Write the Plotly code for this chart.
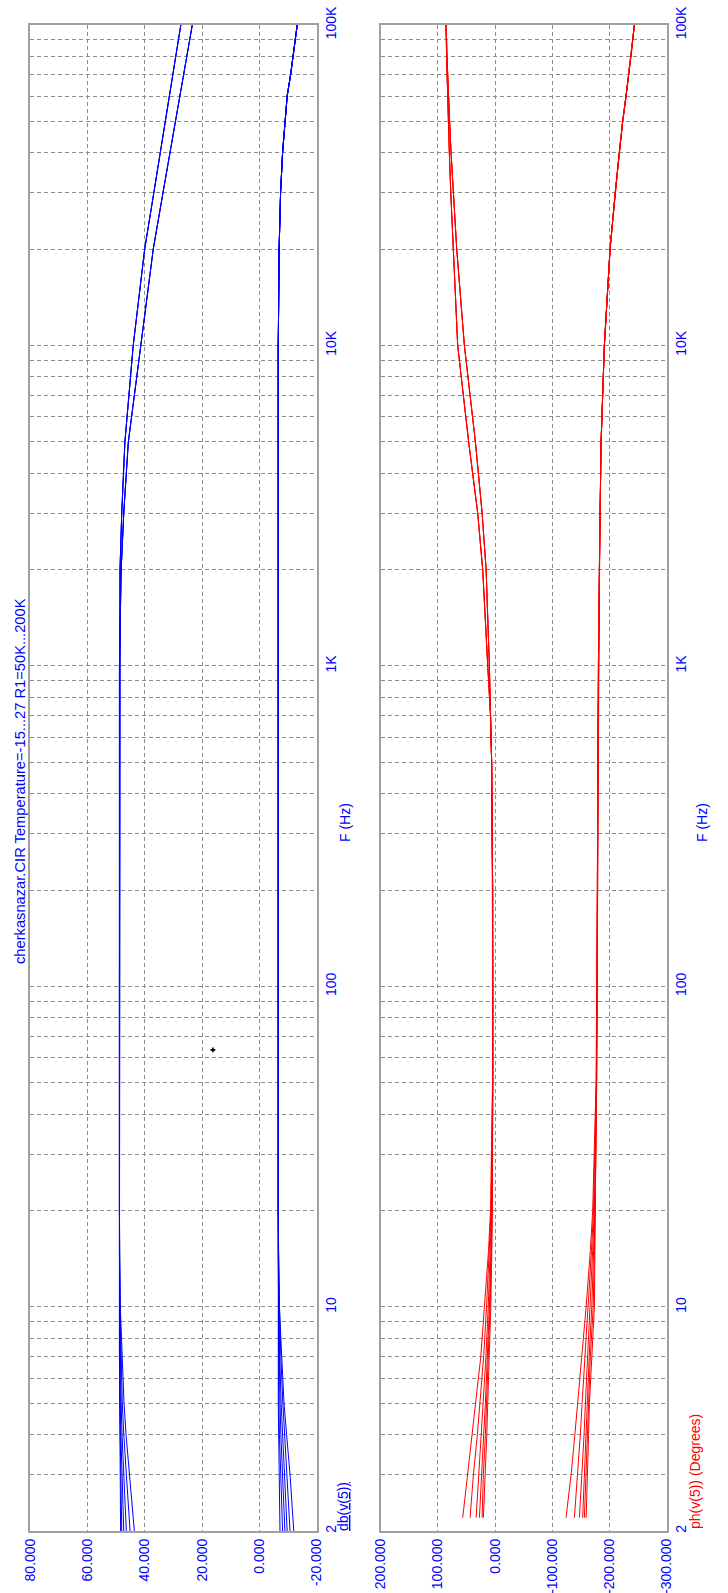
import math
import plotly.graph_objects as go

W, H = 728, 1593

BLUE = "#0000FF"
RED = "#FF0000"
GRID = "#8c8c8c"
FRAME = "#a0a0a0"
FONT = "Liberation Sans, Arial, sans-serif"

# ---------------- magnitude, dB ----------------
FREQ_MAG = [2, 3, 4, 5, 7, 10, 15, 20, 100, 1000, 2000, 3000, 5000,
            10000, 20000, 30000, 40000, 50000, 60000, 70000, 80000, 100000]

# upper family (about +48.8 dB), two branches above 1 kHz
MAG_A1 = [48.4, 48.6, 48.7, 48.8, 48.8, 48.8, 48.8, 48.8, 48.8, 48.8, 48.6, 48.0, 46.9,
          44.0, 40.0, 36.8, 34.6, 32.8, 31.4, 30.2, 29.1, 27.4]
MAG_B1 = [48.0, 48.4, 48.6, 48.7, 48.8, 48.8, 48.8, 48.8, 48.8, 48.8, 48.2, 47.3, 45.7,
          41.4, 37.0, 33.6, 31.2, 29.3, 27.7, 26.4, 25.3, 23.4]
MAG_A2 = [47.3, 48.0, 48.3, 48.5, 48.6, 48.8, 48.8, 48.8, 48.8, 48.8, 48.6, 48.0, 46.9,
          44.0, 40.0, 36.8, 34.6, 32.8, 31.4, 30.2, 29.1, 27.4]
MAG_B2 = [46.4, 47.4, 47.9, 48.2, 48.5, 48.7, 48.8, 48.8, 48.8, 48.8, 48.2, 47.3, 45.7,
          41.4, 37.0, 33.6, 31.2, 29.3, 27.7, 26.4, 25.3, 23.4]
MAG_A3 = [45.1, 46.5, 47.3, 47.8, 48.3, 48.6, 48.8, 48.8, 48.8, 48.8, 48.6, 48.0, 46.9,
          44.0, 40.0, 36.8, 34.6, 32.8, 31.4, 30.2, 29.1, 27.4]
MAG_B3 = [43.6, 45.4, 46.5, 47.2, 47.9, 48.5, 48.7, 48.8, 48.8, 48.8, 48.2, 47.3, 45.7,
          41.4, 37.0, 33.6, 31.2, 29.3, 27.7, 26.4, 25.3, 23.4]

# lower family (about -6.6 dB)
MAG_L1 = [-7.2, -6.9, -6.7, -6.6, -6.6, -6.6, -6.6, -6.6, -6.6, -6.6, -6.6, -6.6, -6.6,
          -6.6, -6.9, -7.4, -8.1, -8.9, -9.7, -10.9, -11.8, -13.2]
MAG_L2 = [-8.1, -7.4, -7.0, -6.8, -6.7, -6.6, -6.6, -6.6, -6.6, -6.6, -6.6, -6.6, -6.6,
          -6.6, -6.9, -7.4, -8.1, -8.9, -9.7, -10.9, -11.8, -13.2]
MAG_L3 = [-8.9, -8.0, -7.5, -7.2, -6.9, -6.7, -6.6, -6.6, -6.6, -6.6, -6.6, -6.6, -6.6,
          -6.6, -6.9, -7.4, -8.1, -8.9, -9.7, -10.9, -11.8, -13.2]
MAG_L4 = [-9.7, -8.7, -8.0, -7.6, -7.1, -6.8, -6.6, -6.6, -6.6, -6.6, -6.6, -6.6, -6.6,
          -6.6, -6.9, -7.4, -8.1, -8.9, -9.7, -10.9, -11.8, -13.2]
MAG_L5 = [-10.7, -9.6, -8.7, -8.2, -7.5, -7.0, -6.7, -6.6, -6.6, -6.6, -6.6, -6.6, -6.6,
          -6.6, -6.9, -7.4, -8.1, -8.9, -9.7, -10.9, -11.8, -13.2]
MAG_L6 = [-12.0, -10.7, -9.5, -8.6, -7.8, -7.0, -6.7, -6.6, -6.6, -6.6, -6.6, -6.6, -6.6,
          -6.6, -6.9, -7.4, -8.1, -8.9, -9.7, -10.9, -11.8, -13.2]

MAG_CURVES = [MAG_A1, MAG_B1, MAG_A2, MAG_B2, MAG_A3, MAG_B3,
              MAG_L1, MAG_L2, MAG_L3, MAG_L4, MAG_L5, MAG_L6]

# ---------------- phase, degrees ----------------
FREQ_PH = [2.2, 3, 4, 5, 7, 10, 15, 20, 50, 100, 200, 500, 700,
           1000, 2000, 3000, 5000, 10000, 20000, 30000, 40000, 50000, 60000, 70000, 80000, 100000]

PH_U1 = [56.6, 47.9, 39.5, 33.2, 25.0, 18.7, 11.5, 8.0, 4.5, 4.0, 4.3, 6.0, 8.0,
         12.9, 21.7, 30.4, 46.2, 65.4, 73.5, 77.5, 80.0, 81.8, 83.0, 84.0, 84.8, 85.7]
PH_U2 = [43.7, 37.9, 31.0, 26.2, 20.0, 15.0, 9.8, 7.0, 4.3, 4.0, 4.3, 6.0, 8.0,
         10.0, 15.7, 22.7, 34.4, 53.7, 67.1, 73.5, 77.0, 79.5, 81.5, 83.0, 84.2, 85.5]
PH_U3 = [33.2, 28.7, 23.5, 20.5, 16.0, 12.0, 8.3, 6.2, 4.2, 4.0, 4.3, 6.0, 8.0,
         12.9, 21.7, 30.4, 46.2, 65.4, 73.5, 77.5, 80.0, 81.8, 83.0, 84.0, 84.8, 85.7]
PH_U4 = [27.4, 24.0, 20.0, 17.0, 13.5, 10.0, 7.2, 5.6, 4.1, 4.0, 4.3, 6.0, 8.0,
         10.0, 15.7, 22.7, 34.4, 53.7, 67.1, 73.5, 77.0, 79.5, 81.5, 83.0, 84.2, 85.5]
PH_U5 = [22.7, 20.5, 17.0, 14.7, 12.0, 8.8, 6.4, 5.2, 4.0, 4.0, 4.3, 6.0, 8.0,
         12.9, 21.7, 30.4, 46.2, 65.4, 73.5, 77.5, 80.0, 81.8, 83.0, 84.0, 84.8, 85.7]
PH_U6 = [20.5, 17.0, 14.5, 12.9, 10.0, 7.5, 5.7, 4.8, 4.0, 4.0, 4.3, 6.0, 8.0,
         10.0, 15.7, 22.7, 34.4, 53.7, 67.1, 73.5, 77.0, 79.5, 81.5, 83.0, 84.2, 85.5]

PH_TAIL_L = [-180.6, -182.3, -183.5, -185.3, -191.0, -201.0, -210.0, -217.0,
             -223.0, -229.0, -233.6, -237.7, -243.5]
PH_L1 = [-124.0, -132.9, -139.5, -144.4, -152.0, -159.1, -166.5, -170.6, -176.5,
         -178.0, -178.8, -179.4, -180.0] + PH_TAIL_L
PH_L2 = [-138.6, -144.4, -149.0, -152.1, -157.5, -163.0, -168.5, -172.0, -177.0,
         -178.2, -178.8, -179.4, -180.0] + PH_TAIL_L
PH_L3 = [-147.4, -152.1, -155.5, -157.9, -162.0, -166.5, -170.5, -173.5, -177.3,
         -178.4, -178.8, -179.4, -180.0] + PH_TAIL_L
PH_L4 = [-153.1, -156.1, -158.8, -160.8, -164.5, -169.0, -172.0, -174.5, -177.5,
         -178.5, -178.8, -179.4, -180.0] + PH_TAIL_L
PH_L5 = [-156.1, -159.1, -161.5, -163.1, -166.5, -171.5, -173.5, -175.0, -177.6,
         -178.5, -178.8, -179.4, -180.0] + PH_TAIL_L
PH_L6 = [-159.1, -161.9, -163.5, -164.9, -168.5, -173.6, -174.5, -175.3, -177.7,
         -178.5, -178.8, -179.4, -180.0] + PH_TAIL_L

PH_CURVES = [PH_U1, PH_U2, PH_U3, PH_U4, PH_U5, PH_U6,
             PH_L1, PH_L2, PH_L3, PH_L4, PH_L5, PH_L6]

# ---------------- axes ----------------
MAG_TICKS = [80, 60, 40, 20, 0, -20]
MAG_TICKTEXT = ["80.000", "60.000", "40.000", "20.000", "0.000", "-20.000"]
PH_TICKS = [200, 100, 0, -100, -200, -300]
PH_TICKTEXT = ["200.000", "100.000", "0.000", "-100.000", "-200.000", "-300.000"]

FREQ_GRID = [m * 10 ** e for e in range(0, 5) for m in range(1, 10)] + [100000]
FREQ_GRID = [f for f in FREQ_GRID if f >= 2]
FREQ_LABELS = {2: "2", 10: "10", 100: "100", 1000: "1K", 10000: "10K", 100000: "100K"}
FREQ_TICKTEXT = [FREQ_LABELS.get(f, "") for f in FREQ_GRID]

TITLE = "cherkasnazar.CIR Temperature=-15...27 R1=50K...200K"


def px(x):
    return x / W


def py(y):
    return 1 - y / H


fig = go.Figure()

for vals in MAG_CURVES:
    fig.add_trace(go.Scatter(x=vals, y=FREQ_MAG, xaxis="x", yaxis="y", mode="lines",
                             line=dict(color=BLUE, width=1), hoverinfo="skip",
                             showlegend=False))

for vals in PH_CURVES:
    fig.add_trace(go.Scatter(x=vals, y=FREQ_PH, xaxis="x2", yaxis="y2", mode="lines",
                             line=dict(color=RED, width=1), hoverinfo="skip",
                             showlegend=False))

# small cursor mark inside the magnitude panel
fig.add_trace(go.Scatter(x=[16.2], y=[63.4], xaxis="x", yaxis="y", mode="markers",
                         marker=dict(symbol="cross", size=4, color="black"),
                         hoverinfo="skip", showlegend=False))

tickfont = dict(family=FONT, size=14, color=BLUE)

common_x = dict(showgrid=True, gridcolor=GRID, griddash="4px,3px", gridwidth=1,
                showline=True, mirror=True, linecolor=FRAME, linewidth=2,
                zeroline=False, ticks="", tickangle=-90, tickfont=tickfont,
                tickmode="array", fixedrange=True, automargin=False)
common_y = dict(type="log", range=[math.log10(2), 5], domain=[py(1531), py(25)],
                showgrid=True, gridcolor=GRID, griddash="4px,3px", gridwidth=1,
                showline=True, mirror=True, linecolor=FRAME, linewidth=2,
                zeroline=False, ticks="", tickangle=-90, tickfont=tickfont,
                tickmode="array", tickvals=FREQ_GRID, ticktext=FREQ_TICKTEXT,
                side="right", fixedrange=True, automargin=False)

fig.update_layout(
    template="none",
    width=W, height=H,
    margin=dict(l=0, r=0, t=0, b=0, pad=0),
    paper_bgcolor="white", plot_bgcolor="white",
    font=dict(family=FONT, size=14, color=BLUE),
    xaxis=dict(domain=[px(30), px(316.7)], range=[80, -20], anchor="y",
               tickvals=MAG_TICKS, ticktext=MAG_TICKTEXT, **common_x),
    yaxis=dict(anchor="x", **common_y),
    xaxis2=dict(domain=[px(380.7), px(666.7)], range=[200, -300], anchor="y2",
                tickvals=PH_TICKS, ticktext=PH_TICKTEXT, **common_x),
    yaxis2=dict(anchor="x2", **common_y),
    annotations=[
        dict(text=TITLE, x=px(20), y=py(781), xref="paper", yref="paper",
             textangle=-90, showarrow=False, xanchor="center", yanchor="middle",
             font=dict(family=FONT, size=14.7, color=BLUE)),
        dict(text="F (Hz)", x=px(345), y=py(823), xref="paper", yref="paper",
             textangle=-90, showarrow=False, xanchor="center", yanchor="middle",
             font=dict(family=FONT, size=14, color=BLUE)),
        dict(text="F (Hz)", x=px(702), y=py(823), xref="paper", yref="paper",
             textangle=-90, showarrow=False, xanchor="center", yanchor="middle",
             font=dict(family=FONT, size=14, color=BLUE)),
        dict(text="<u>db(v(5))</u>", x=px(343), y=py(1507), xref="paper", yref="paper",
             textangle=-90, showarrow=False, xanchor="center", yanchor="middle",
             font=dict(family=FONT, size=14, color=BLUE)),
        dict(text="ph(v(5)) (Degrees)", x=px(695), y=py(1472), xref="paper", yref="paper",
             textangle=-90, showarrow=False, xanchor="center", yanchor="middle",
             font=dict(family=FONT, size=14, color=RED)),
    ],
)

fig.write_html("out.html")
